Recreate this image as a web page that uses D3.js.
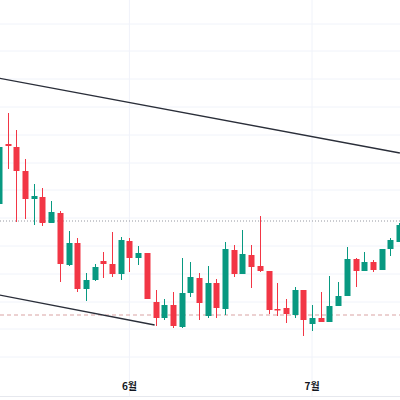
<!DOCTYPE html>
<html><head><meta charset="utf-8">
<script src="https://cdn.jsdelivr.net/npm/d3@7"></script>
<style>body{margin:0;background:#fff}svg{display:block}</style>
</head><body>
<svg id="c" width="400" height="400"></svg>
<script>
const open_ = [196,256,253,229,201,203,177,187,135,157,111,120,139,136,126,159,142,147,98,82,95,73,107,122,84,117,91,150,126,145,134,129,91,92,85,110,76,82,78,94,104,141,129,138,130,151,158];
const high  = [260,287,270,241,216,212,199,189,169,162,127,136,148,168,163,162,154,147,110,101,108,142,138,127,134,121,158,155,170,155,184,129,117,101,113,110,95,108,124,118,153,142,148,140,151,162,177];
const low   = [188,231,178,181,175,174,177,118,134,108,99,119,122,123,120,128,135,101,74,80,72,72,103,80,82,82,85,123,126,112,128,86,84,77,82,64,69,78,78,94,104,113,129,128,130,144,158];
const close = [253,254,229,201,204,177,188,136,157,111,120,133,136,126,160,142,147,101,82,95,74,107,123,97,117,92,151,126,146,133,129,90,90,86,110,80,82,78,94,104,141,129,138,130,151,160,175];
const gridTicks = [43,71,98,126,154,182,210,237,265,293,321,349,376];
const monthLabels = [{i:15,label:"6월"},{i:36,label:"7월"}];
const trendUpper = [{i:-0.1,p:322},{i:46.1,p:247}];
const trendLower = [{i:0,p:105},{i:17.9,p:75}];
const refDotted = 179, refDashed = 85;

const svg = d3.select("#c");
const x = d3.scaleLinear().domain([0,46]).range([-1,399]);
const y = d3.scaleLinear().domain([0,400]).range([400,0]);
const G="#089981", R="#F23645";

svg.append("g").selectAll("line").data(gridTicks).join("line")
  .attr("x1",0).attr("x2",400).attr("y1",d=>y(d)).attr("y2",d=>y(d))
  .attr("stroke","#f0f3fa").attr("stroke-width",1);
svg.append("g").selectAll("line").data(monthLabels).join("line")
  .attr("x1",d=>x(d.i)).attr("x2",d=>x(d.i)).attr("y1",0).attr("y2",396)
  .attr("stroke","#f0f3fa");
svg.append("line").attr("x1",0).attr("x2",400).attr("y1",396.5).attr("y2",396.5).attr("stroke","#e6e8ee");
svg.append("g").selectAll("text").data(monthLabels).join("text")
  .attr("x",d=>x(d.i)).attr("y",390).attr("text-anchor","middle")
  .attr("font-family","Noto Sans CJK KR").attr("font-size",10).attr("font-weight","bold")
  .attr("fill","#131722").text(d=>d.label);

svg.append("line").attr("x1",0).attr("x2",400).attr("y1",y(refDotted)).attr("y2",y(refDotted))
  .attr("stroke","#9598a1").attr("stroke-dasharray","1,2");
svg.append("line").attr("x1",0).attr("x2",400).attr("y1",y(refDashed)).attr("y2",y(refDashed))
  .attr("stroke","#d9a3a3").attr("stroke-dasharray","4,3");

const line = d3.line().x(d=>x(d.i)).y(d=>y(d.p));
[trendUpper,trendLower].forEach(t=>svg.append("path").attr("d",line(t))
  .attr("fill","none").attr("stroke","#2a2e39").attr("stroke-width",1.3));

const idx = d3.range(open_.length);
const cg = svg.append("g");
cg.selectAll("line").data(idx).join("line")
  .attr("x1",i=>Math.round(x(i))+0.5).attr("x2",i=>Math.round(x(i))+0.5)
  .attr("y1",i=>y(high[i])).attr("y2",i=>y(low[i]))
  .attr("stroke",i=>close[i]>=open_[i]?G:R).attr("stroke-width",1);
cg.selectAll("rect").data(idx).join("rect")
  .attr("x",i=>Math.round(x(i))-2.5).attr("width",6)
  .attr("y",i=>y(Math.max(open_[i],close[i])))
  .attr("height",i=>Math.max(1.5,Math.abs(y(open_[i])-y(close[i]))))
  .attr("fill",i=>close[i]>=open_[i]?G:R);
</script>
</body></html>
